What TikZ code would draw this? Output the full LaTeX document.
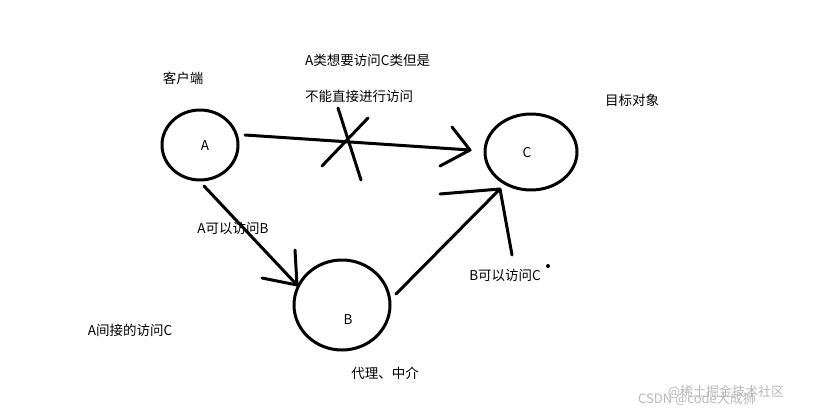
\documentclass[tikz,border=0pt]{standalone}
\usepackage{fontspec}
\newfontfamily\cjk{Noto Sans CJK SC}
\usetikzlibrary{arrows.meta,shapes.geometric}
\begin{document}
\begin{tikzpicture}[x=1pt,y=-1pt,
  pen/.style={line width=3pt,line cap=round,line join=round},
  lbl/.style={font=\cjk\fontsize{13.5}{15}\selectfont,inner sep=0pt},
  wm/.style={font=\cjk\fontsize{13}{15}\selectfont,text=gray!55,inner sep=0pt}]
\useasboundingbox (0,0) rectangle (816,417);
\fill[white] (0,0) rectangle (816,417);
\node[pen,draw,ellipse,minimum width=76pt,minimum height=70pt] (A) at (200,145) {};
\node[pen,draw,ellipse,minimum width=92pt,minimum height=76pt] (C) at (531,152) {};
\node[pen,draw,ellipse,minimum width=96pt,minimum height=90pt] (B) at (342,305) {};
\node[lbl] at (205,146) {A};
\node[lbl] at (527,153) {C};
\node[lbl] at (348,320) {B};
\coordinate (a1) at (245,135); \coordinate (c1) at (470,150);
\draw[pen] (a1) -- (c1);
\draw[pen] (452,127) -- (c1) -- (440,166);
\draw[pen] (338,108) -- (361,180);
\draw[pen] (322,166) -- (368,118);
\coordinate (a2) at (204,186); \coordinate (b2) at (297,285);
\draw[pen] (a2) -- (b2);
\draw[pen] (295,250) -- (b2) -- (262,278);
\coordinate (b3) at (396,294); \coordinate (c3) at (500,189);
\draw[pen] (b3) -- (c3);
\draw[pen] (440,194) -- (c3) -- (512,255);
\node[lbl] at (183,78) {客户端};
\node[lbl,anchor=west] at (305,60) {A类想要访问C类但是};
\node[lbl,anchor=west] at (305,96) {不能直接进行访问};
\node[lbl] at (632,100) {目标对象};
\node[lbl] at (233,228) {A可以访问B};
\node[lbl] at (505,275) {B可以访问C};
\fill (548,266) circle (2pt);
\node[lbl] at (130,330) {A间接的访问C};
\node[lbl] at (385,373) {代理、中介};
\node[wm] at (726,392) {@稀土掘金技术社区};
\node[wm,anchor=west] at (638,399) {CSDN @code大成狮};
\end{tikzpicture}
\end{document}
